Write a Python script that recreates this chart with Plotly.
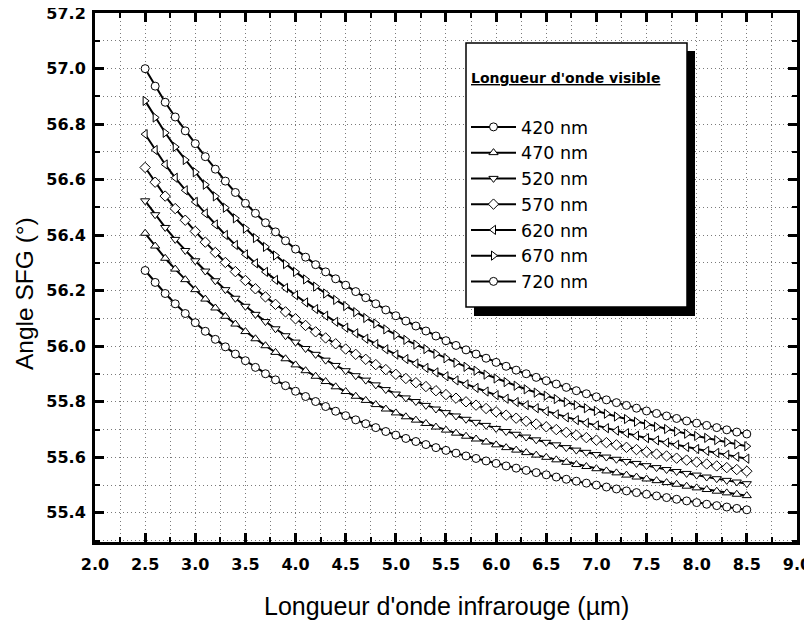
import plotly.graph_objects as go

ir_um = [2.5, 2.6, 2.7, 2.8, 2.9, 3.0, 3.1, 3.2, 3.3, 3.4, 3.5, 3.6, 3.7, 3.8, 3.9, 4.0,
         4.1, 4.2, 4.3, 4.4, 4.5, 4.6, 4.7, 4.8, 4.9, 5.0, 5.1, 5.2, 5.3, 5.4, 5.5, 5.6,
         5.7, 5.8, 5.9, 6.0, 6.1, 6.2, 6.3, 6.4, 6.5, 6.6, 6.7, 6.8, 6.9, 7.0, 7.1, 7.2,
         7.3, 7.4, 7.5, 7.6, 7.7, 7.8, 7.9, 8.0, 8.1, 8.2, 8.3, 8.4, 8.5]

angle_420 = [56.273, 56.230, 56.190, 56.153, 56.118, 56.085,
             56.054, 56.025, 55.998, 55.972, 55.948, 55.924, 55.901, 55.879, 55.858, 55.838,
             55.819, 55.801, 55.783, 55.766, 55.750, 55.735, 55.721, 55.707, 55.693, 55.680,
             55.668, 55.657, 55.646, 55.635, 55.625, 55.615, 55.605, 55.596, 55.587, 55.578,
             55.569, 55.561, 55.553, 55.545, 55.537, 55.529, 55.521, 55.514, 55.507, 55.500,
             55.493, 55.486, 55.479, 55.473, 55.467, 55.461, 55.455, 55.449, 55.443, 55.437,
             55.431, 55.426, 55.421, 55.416, 55.411]
angle_470 = [56.407, 56.361, 56.317, 56.278, 56.240, 56.204,
             56.170, 56.138, 56.108, 56.080, 56.053, 56.027, 56.002, 55.978, 55.955, 55.933,
             55.912, 55.892, 55.873, 55.854, 55.837, 55.820, 55.805, 55.790, 55.774, 55.760,
             55.746, 55.734, 55.722, 55.709, 55.698, 55.687, 55.676, 55.666, 55.655, 55.645,
             55.635, 55.626, 55.617, 55.608, 55.600, 55.591, 55.582, 55.574, 55.567, 55.559,
             55.551, 55.544, 55.536, 55.529, 55.522, 55.516, 55.509, 55.503, 55.496, 55.490,
             55.484, 55.478, 55.472, 55.467, 55.462]
angle_520 = [56.524, 56.474, 56.428, 56.385, 56.345, 56.308,
             56.271, 56.236, 56.204, 56.173, 56.144, 56.115, 56.089, 56.063, 56.038, 56.015,
             55.992, 55.971, 55.950, 55.931, 55.912, 55.894, 55.878, 55.861, 55.844, 55.828,
             55.814, 55.801, 55.787, 55.774, 55.761, 55.749, 55.737, 55.726, 55.715, 55.704,
             55.693, 55.683, 55.673, 55.663, 55.654, 55.645, 55.635, 55.626, 55.618, 55.610,
             55.601, 55.593, 55.585, 55.578, 55.570, 55.563, 55.556, 55.549, 55.542, 55.536,
             55.529, 55.523, 55.517, 55.511, 55.505]
angle_570 = [56.644, 56.591, 56.541, 56.496, 56.454, 56.414,
             56.375, 56.338, 56.302, 56.269, 56.237, 56.207, 56.178, 56.151, 56.124, 56.099,
             56.075, 56.052, 56.030, 56.009, 55.990, 55.971, 55.953, 55.934, 55.916, 55.899,
             55.884, 55.869, 55.855, 55.840, 55.826, 55.813, 55.800, 55.788, 55.776, 55.764,
             55.752, 55.741, 55.730, 55.720, 55.710, 55.700, 55.690, 55.680, 55.671, 55.662,
             55.653, 55.645, 55.636, 55.628, 55.620, 55.612, 55.605, 55.597, 55.590, 55.583,
             55.576, 55.569, 55.563, 55.556, 55.550]
angle_620 = [56.764, 56.707, 56.655, 56.607, 56.562, 56.520,
             56.479, 56.439, 56.401, 56.365, 56.331, 56.299, 56.268, 56.239, 56.210, 56.184,
             56.158, 56.134, 56.110, 56.088, 56.067, 56.047, 56.027, 56.008, 55.989, 55.970,
             55.954, 55.938, 55.922, 55.906, 55.892, 55.877, 55.863, 55.850, 55.837, 55.824,
             55.811, 55.799, 55.788, 55.777, 55.766, 55.755, 55.744, 55.734, 55.724, 55.715,
             55.705, 55.696, 55.687, 55.678, 55.669, 55.661, 55.653, 55.645, 55.637, 55.630,
             55.623, 55.616, 55.609, 55.602, 55.595]
angle_670 = [56.884, 56.824, 56.769, 56.718, 56.671, 56.627,
             56.582, 56.540, 56.499, 56.461, 56.424, 56.390, 56.358, 56.327, 56.296, 56.268,
             56.241, 56.215, 56.190, 56.167, 56.145, 56.123, 56.102, 56.082, 56.061, 56.041,
             56.023, 56.006, 55.990, 55.973, 55.957, 55.941, 55.926, 55.912, 55.898, 55.884,
             55.871, 55.858, 55.845, 55.833, 55.822, 55.810, 55.799, 55.788, 55.777, 55.767,
             55.757, 55.747, 55.738, 55.728, 55.719, 55.710, 55.702, 55.693, 55.685, 55.677,
             55.670, 55.662, 55.655, 55.647, 55.640]
angle_720 = [57.000, 56.937, 56.879, 56.826, 56.776, 56.730,
             56.683, 56.638, 56.595, 56.554, 56.515, 56.479, 56.445, 56.412, 56.380, 56.350,
             56.321, 56.294, 56.268, 56.243, 56.220, 56.197, 56.175, 56.153, 56.131, 56.110,
             56.091, 56.073, 56.055, 56.037, 56.020, 56.003, 55.987, 55.972, 55.957, 55.942,
             55.928, 55.914, 55.901, 55.888, 55.876, 55.864, 55.852, 55.840, 55.829, 55.818,
             55.807, 55.797, 55.787, 55.777, 55.767, 55.758, 55.749, 55.740, 55.731, 55.723,
             55.715, 55.707, 55.699, 55.691, 55.684]

series_names = ["420 nm", "470 nm", "520 nm", "570 nm", "620 nm", "670 nm", "720 nm"]
series_values = [angle_420, angle_470, angle_520, angle_570, angle_620, angle_670, angle_720]
series_symbols = ["circle", "triangle-up", "triangle-down", "diamond",
                  "triangle-left", "triangle-right", "circle"]

fig = go.Figure()
for name, vals, sym in zip(series_names, series_values, series_symbols):
    fig.add_trace(go.Scatter(
        x=ir_um, y=vals, name=name, mode="lines+markers",
        line=dict(color="black", width=2),
        marker=dict(symbol=sym, size=8, color="white",
                    line=dict(color="black", width=1)),
    ))

# the page body adds an 8 px offset; the figure is sized to fit the window
OFF = 8
W, H = 812 - OFF, 621 - OFF
L, R, T, B = 95 - OFF, 15, 13 - OFF, 79
pw, ph = W - L - R, H - T - B


def px_x(p):
    """page pixel -> paper x"""
    return (p - OFF - L) / pw


def px_y(p):
    """page pixel -> paper y"""
    return (H - B - (p - OFF)) / ph


grid_common = dict(gridcolor="#7a7a7a", gridwidth=1, griddash="1px,3px")
axis_common = dict(
    showline=True, linecolor="black", linewidth=3, mirror="allticks",
    ticks="inside", ticklen=9, tickwidth=3, tickcolor="black",
    showgrid=True, zeroline=False, tickformat=".1f", automargin=False,
    ticklabeloverflow="allow",
    tickfont=dict(family="DejaVu Sans", size=16, color="black", weight="bold"),
    **grid_common,
)

fig.update_xaxes(
    range=[2.0, 9.0005], dtick=0.5, tick0=2.0,
    minor=dict(dtick=0.25, ticks="inside", ticklen=5, tickwidth=2, tickcolor="black",
               showgrid=True, **grid_common),
    ticklabelstandoff=6,
    **axis_common,
)
fig.update_yaxes(
    range=[55.295, 57.2005], dtick=0.2, tick0=55.4,
    minor=dict(dtick=0.1, ticks="inside", ticklen=5, tickwidth=2, tickcolor="black",
               showgrid=True, **grid_common),
    ticklabelstandoff=3,
    **axis_common,
)

title_font = dict(family="Liberation Sans, Arial", size=25, color="black")
fig.add_annotation(text="Longueur d'onde infrarouge (µm)", xref="paper", yref="paper",
                   x=0.5, y=px_y(606), xanchor="center", yanchor="middle",
                   showarrow=False, font=title_font)
fig.add_annotation(text="Angle SFG (°)", xref="paper", yref="paper",
                   x=px_x(24), y=px_y(294), xanchor="center", yanchor="middle",
                   textangle=-90, showarrow=False,
                   font=dict(family="Liberation Sans, Arial", size=24.5, color="black"))

# legend frame, its drop shadow and its heading
fig.add_shape(type="rect", xref="paper", yref="paper",
              x0=px_x(474), x1=px_x(695), y0=px_y(316), y1=px_y(51),
              fillcolor="black", line=dict(width=0), layer="above")
fig.add_shape(type="rect", xref="paper", yref="paper",
              x0=px_x(466), x1=px_x(687), y0=px_y(307), y1=px_y(43),
              fillcolor="white", line=dict(color="black", width=1.5), layer="above")
fig.add_annotation(text="<b><u>Longueur d'onde visible</u></b>", xref="paper", yref="paper",
                   x=px_x(469), y=px_y(78), xanchor="left", yanchor="middle",
                   showarrow=False,
                   font=dict(family="DejaVu Sans", size=14, color="black"))

fig.update_layout(
    width=W, height=H,
    margin=dict(l=L, r=R, t=T, b=B),
    paper_bgcolor="white", plot_bgcolor="white",
    font=dict(family="Liberation Sans, Arial", color="black"),
    legend=dict(
        x=px_x(466), y=px_y(109), xanchor="left", yanchor="top",
        bgcolor="rgba(0,0,0,0)", borderwidth=0,
        font=dict(family="DejaVu Sans", size=17.5, color="black"),
        itemwidth=45, tracegroupgap=0,
    ),
)

fig.write_html("out.html")
